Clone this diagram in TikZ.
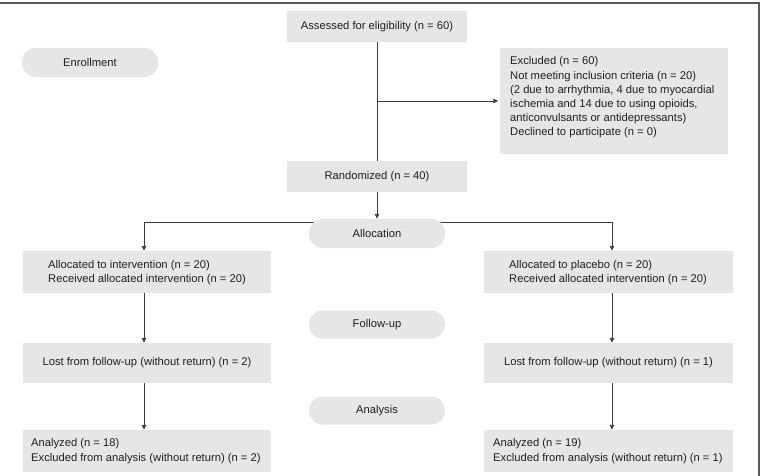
\documentclass[tikz,border=0pt]{standalone}
\usepackage{fontspec}
\setmainfont{Liberation Sans}
\usetikzlibrary{arrows.meta}
\definecolor{boxgray}{HTML}{E6E6E6}
\definecolor{linegray}{HTML}{3C3C3C}
\definecolor{txtc}{HTML}{231F20}
\definecolor{framegray}{HTML}{5A5A5A}
\pgfdeclarelayer{background}
\pgfsetlayers{background,main}
\begin{document}
\begin{tikzpicture}[x=1pt,y=-1pt,
  every node/.style={font=\fontsize{11.2}{14.2}\selectfont, text=txtc},
  box/.style={fill=boxgray, inner sep=0pt},
  pill/.style={fill=boxgray, rounded corners=13.5pt, minimum width=136pt, minimum height=28pt, inner sep=0pt},
  lbl/.style={inner sep=0pt, align=left, anchor=west},
  conn/.style={draw=linegray, line width=0.9pt},
  arr/.style={conn, -{Triangle[length=5pt,width=4.5pt]}}]
\useasboundingbox (0,0) rectangle (765,476);
\draw[framegray, line width=1.4pt] (0,3) -- (759,3) -- (759,476);

\node[box, minimum width=180pt, minimum height=31pt] (assess) at (377,26.5) {Assessed for eligibility (n = 60)};
\node[pill, minimum height=29pt] (enroll) at (90,62.5) {Enrollment};
\node[box, minimum width=228pt, minimum height=106pt] (excl) at (614,101) {};
\node[lbl] (exclt) at (510,97.5) {Excluded (n = 60)\\Not meeting inclusion criteria (n = 20)\\(2 due to arrhythmia, 4 due to myocardial\\ischemia and 14 due to using opioids,\\anticonvulsants or antidepressants)\\Declined to participate (n = 0)};
\node[box, minimum width=180pt, minimum height=31pt] (rand) at (377,176.5) {Randomized (n = 40)};
\node[pill, minimum height=29pt] (alloc) at (377,233.5) {Allocation};
\node[box, minimum width=248pt, minimum height=42pt] (lalloc) at (147,272) {};
\node[lbl] (lalloct) at (48,272.5) {Allocated to intervention (n = 20)\\Received allocated intervention (n = 20)};
\node[box, minimum width=249pt, minimum height=42pt] (ralloc) at (608.5,272) {};
\node[lbl] (ralloct) at (509,272.5) {Allocated to placebo (n = 20)\\Received allocated intervention (n = 20)};
\node[pill] (follow) at (377,324.5) {Follow-up};
\node[box, minimum width=248pt, minimum height=40pt] (llost) at (147,363) {Lost from follow-up (without return) (n = 2)};
\node[box, minimum width=249pt, minimum height=40pt] (rlost) at (608.5,363) {Lost from follow-up (without return) (n = 1)};
\node[pill] (analysis) at (377,410.5) {Analysis};
\node[box, minimum width=248pt, minimum height=42pt] (lanal) at (147,451) {};
\node[lbl] (lanalt) at (31,451) {Analyzed (n = 18)\\Excluded from analysis (without return) (n = 2)};
\node[box, minimum width=249pt, minimum height=42pt] (ranal) at (608.5,451) {};
\node[lbl] (ranalt) at (493,451) {Analyzed (n = 19)\\Excluded from analysis (without return) (n = 1)};

\coordinate (split) at (377,222);
\begin{pgfonlayer}{background}
\draw[arr] (split) -| ([xshift=-3pt]lalloc.north);
\draw[arr] (split) -| ([xshift=3.5pt]ralloc.north);
\end{pgfonlayer}
\draw[conn] (assess) -- (rand);
\draw[arr] (assess.south |- excl.west) -- ([xshift=-1.5pt]excl.west);
\draw[arr] (rand) -- (alloc);
\draw[arr] ([xshift=-3pt]lalloc.south) -- ([xshift=-3pt]llost.north);
\draw[arr] ([xshift=-3pt]llost.south) -- ([xshift=-3pt]lanal.north);
\draw[arr] ([xshift=3.5pt]ralloc.south) -- ([xshift=3.5pt]rlost.north);
\draw[arr] ([xshift=3.5pt]rlost.south) -- ([xshift=3.5pt]ranal.north);
\end{tikzpicture}
\end{document}
